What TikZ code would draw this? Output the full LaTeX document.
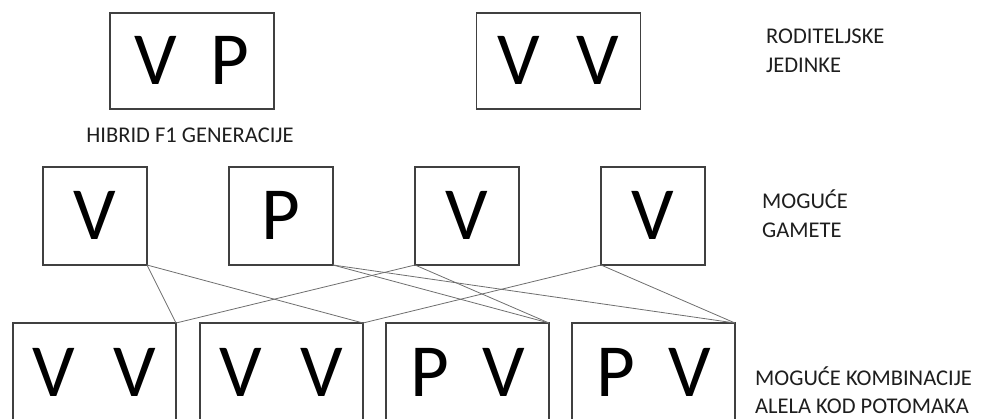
\documentclass[tikz,border=0pt]{standalone}
\usepackage{fontspec}
\setmainfont{Carlito}
\definecolor{boxline}{HTML}{404040}
\definecolor{conn}{HTML}{6E6E6E}
\definecolor{labeltext}{HTML}{1E1E1E}
\begin{document}
\begin{tikzpicture}[x=1pt,y=-1pt,
  allelebox/.style={draw=boxline, line width=1.4pt, rectangle, inner sep=0pt, outer sep=0pt,
    font=\fontsize{75}{80}\selectfont, text height=47.4pt, text depth=0pt},
  parentbox/.style={allelebox, minimum width=164pt, minimum height=96pt},
  gametebox/.style={allelebox, minimum width=104pt, minimum height=98pt},
  childbox/.style={allelebox, minimum width=163pt, minimum height=99pt},
  caption/.style={anchor=west, align=left, inner sep=0pt, text=labeltext,
    font=\fontsize{22.5}{28.5}\selectfont},
  link/.style={draw=conn, line width=0.8pt}]
\useasboundingbox (0,0) rectangle (984,418);
\begin{scope}
\clip (0,0) rectangle (984,418);
% parents
\node[parentbox] (p1) at (192,61) {V\hspace{33pt}P};
\node[parentbox] (p2) at (558.5,61) {V\hspace{37pt}V};
% gametes
\node[gametebox] (g1) at (95,216) {V};
\node[gametebox] (g2) at (281,216) {P};
\node[gametebox] (g3) at (467,216) {V};
\node[gametebox] (g4) at (653,216) {V};
% offspring
\node[childbox] (o1) at (94.5,372.5) {V\hspace{38pt}V};
\node[childbox] (o2) at (281.5,372.5) {V\hspace{38pt}V};
\node[childbox] (o3) at (467.5,372.5) {P\hspace{33pt}V};
\node[childbox] (o4) at (653.5,372.5) {P\hspace{33pt}V};
% connectors
\draw[link] (g1.south east) -- (o1.north east);
\draw[link] (g1.south east) -- (o2.north east);
\draw[link] (g3.south west) -- (o1.north east);
\draw[link] (g3.south west) -- (o3.north east);
\draw[link] (g2.south east) -- (o3.north east);
\draw[link] (g2.south east) -- (o4.north east);
\draw[link] (g4.south west) -- (o2.north east);
\draw[link] (g4.south west) -- (o4.north east);
\end{scope}
% captions
\node[caption, anchor=center] (hib) at (190,135) {HIBRID F1 GENERACIJE};
\node[caption] (rod) at (766,51) {RODITELJSKE\\JEDINKE};
\node[caption] (gam) at (762,213.5) {MOGUĆE\\GAMETE};
\node[caption] (kom) at (755,390) {MOGUĆE KOMBINACIJE\\ALELA KOD POTOMAKA};
\end{tikzpicture}
\end{document}
